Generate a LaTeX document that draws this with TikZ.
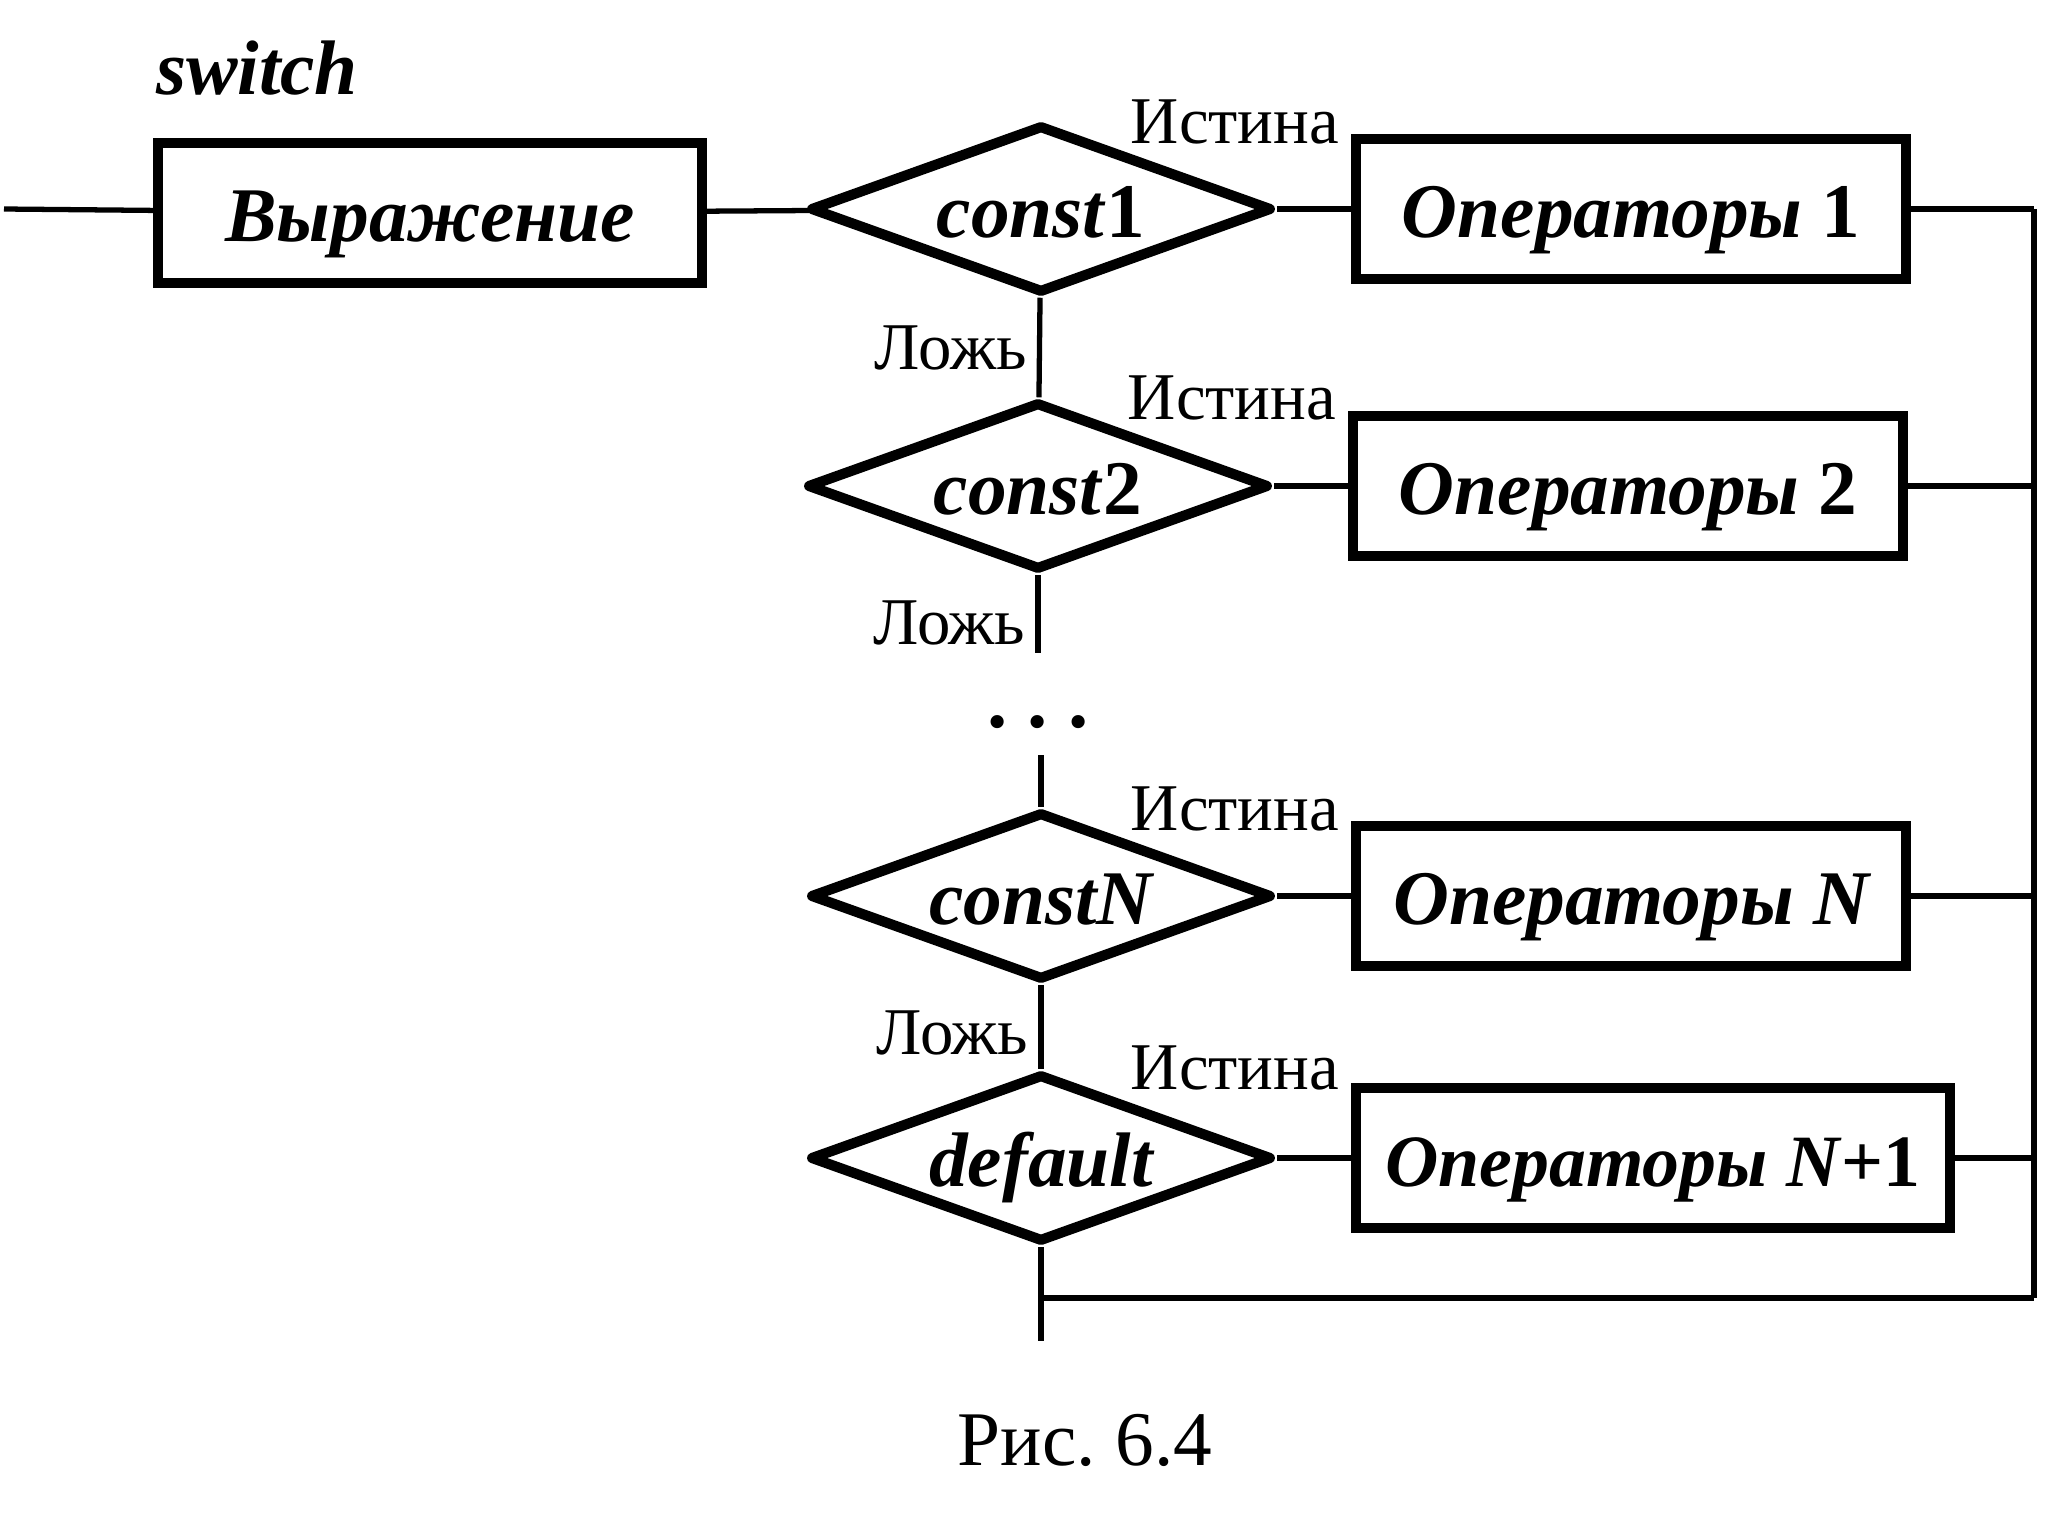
\documentclass[tikz,border=0pt]{standalone}
\usepackage{fontspec}
\setmainfont{Liberation Serif}
\usetikzlibrary{shapes.geometric,positioning}

\begin{document}
\begin{tikzpicture}[
opbox/.style={rectangle, draw=black, line width=2.9pt, minimum width=5.50cm, minimum height=1.40cm, inner sep=0pt, text height=17.5pt, text depth=1.5pt, font=\fontsize{22}{26}\selectfont\bfseries\itshape},
cond/.style={diamond, draw=black, line width=2.9pt, line join=round, aspect=2.8, minimum width=4.62cm, minimum height=1.68cm, inner sep=0pt, text height=17.5pt, text depth=1.5pt, font=\fontsize{22}{26}\selectfont\bfseries\itshape},
lbl/.style={font=\fontsize{19}{21}\selectfont, inner sep=0pt},
link/.style={line width=1.5pt}
]
\useasboundingbox (0,0) rectangle (20.48,-15.15);
%Nodes
\node[font=\fontsize{22}{26}\selectfont\bfseries\itshape] (swlbl) at (2.57,-0.68) {switch};
\node[opbox, minimum width=5.44cm] (expr) at (4.30,-2.13)    {Выражение};
\node[cond]      (c1)     at (10.41,-2.09)                   {const\textup{1}};
\node[cond]      (c2)     at (10.38,-4.86)                   {const\textup{2}};
\node[cond]      (cn)     at (10.41,-8.96)                   {constN};
\node[cond]      (cd)     at (10.41,-11.58)                  {default};
\node[opbox]     (op1)    [right=0.74cm of c1]               {Операторы \textup{1}};
\node[opbox]     (op2)    [right=0.74cm of c2]               {Операторы \textup{2}};
\node[opbox]     (opn)    [right=0.74cm of cn]               {Операторы N};
\node[opbox, minimum width=5.94cm, font=\fontsize{21}{25}\selectfont\bfseries\itshape] (opd) [right=0.74cm of cd] {Операторы N\textup{+1}};
\node[inner sep=0pt, font=\fontsize{23}{23}\selectfont\bfseries] (dots) at (10.38,-7.22) {.\ .\ .};
\node[font=\fontsize{22}{24}\selectfont] (cap) at (10.85,-14.40) {Рис.\ 6.4};
%Labels
\node[lbl] at ([shift={(1.94,0.87)}]c1) {Истина};
\node[lbl] at ([shift={(1.94,0.88)}]c2) {Истина};
\node[lbl] at ([shift={(1.94,0.87)}]cn) {Истина};
\node[lbl] at ([shift={(1.94,0.90)}]cd) {Истина};
%Coordinates
\coordinate (inl)  at (0.04,-2.09);
\coordinate (c2e)  at (10.38,-6.53);
\coordinate (cnb)  at (10.41,-7.55);
\coordinate (jn)   at (10.41,-12.98);
\coordinate (outl) at (10.41,-13.41);
\coordinate (b1)   at (20.34,-2.09);
\coordinate (b2)   at (20.34,-4.86);
\coordinate (b3)   at (20.34,-8.96);
\coordinate (b4)   at (20.34,-11.58);
\coordinate (b5)   at (20.34,-12.98);
%Lines
\draw[link] (inl) -- (expr);
\draw[link] (expr) -- (c1);
\draw[link] (c1) -- (op1);
\draw[link] (c2) -- (op2);
\draw[link] (cn) -- (opn);
\draw[link] (cd) -- (opd);
\draw[link] (c1) -- (c2) node [midway, left, lbl, xshift=-0.1cm] {Ложь};
\draw[link] (c2) -- (c2e) node [pos=0.62, left, lbl, xshift=-0.1cm] {Ложь};
\draw[link] (cnb) -- (cn);
\draw[link] (cn) -- (cd) node [pos=0.57, left, lbl, xshift=-0.1cm] {Ложь};
\draw[link] (cd) -- (outl);
\draw[link] (op1) -- (b1);
\draw[link] (op2) -- (b2);
\draw[link] (opn) -- (b3);
\draw[link] (opd) -- (b4);
\draw[link] (b1) -- (b5);
\draw[link] (jn) -- (b5);
\end{tikzpicture}
\end{document}
